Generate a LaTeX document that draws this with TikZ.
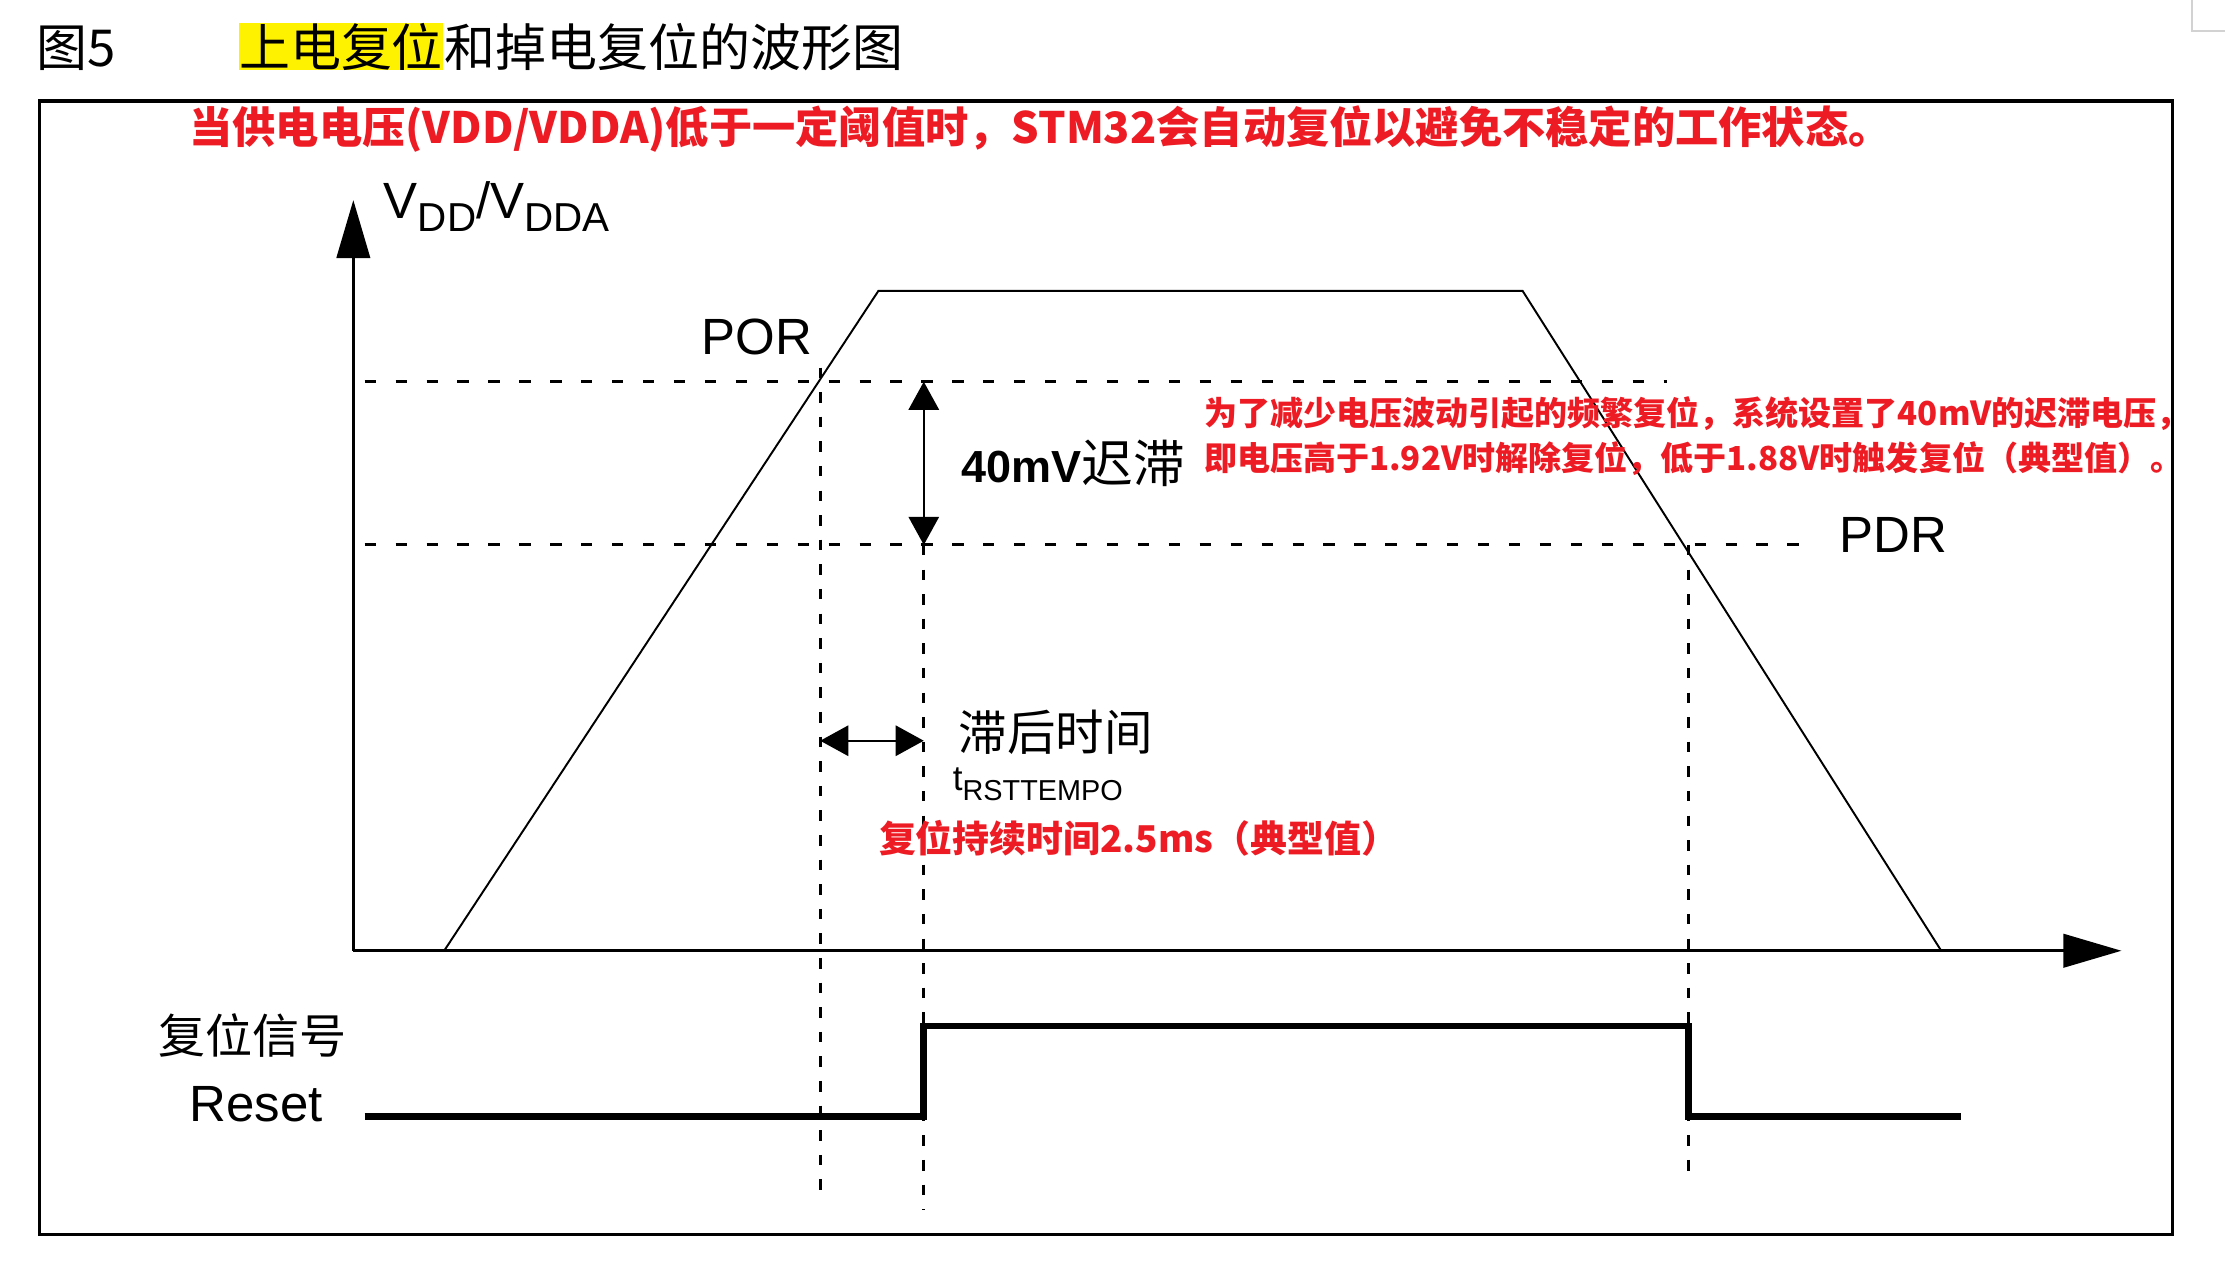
\documentclass[tikz,border=0pt]{standalone}
\usepackage{fontspec}
\setmainfont{Liberation Sans}
\newfontfamily\cjk{Noto Sans CJK SC}
\usetikzlibrary{arrows.meta}
\definecolor{warnred}{RGB}{237,28,36}
\newcommand\sz[1]{\fontsize{#1}{#1}\selectfont}

\begin{document}
\begin{tikzpicture}[x=0.01419cm, y=-0.01419cm,
    axisline/.style={line width=0.8pt, -{Triangle[length=16.5pt,width=9.5pt]}},
    waveline/.style={line width=0.55pt},
    levelline/.style={line width=0.85pt, dash pattern=on 3.2pt off 5.6pt},
    timeline/.style={line width=0.8pt, dash pattern=on 3pt off 4pt},
    dimarrow/.style={line width=0.7pt, {Triangle[length=8pt,width=8.6pt]}-{Triangle[length=8pt,width=8.6pt]}},
    resetline/.style={line width=1.9pt},
    txt/.style={inner sep=0pt},
    redtxt/.style={inner sep=0pt, text=warnred}]
    \useasboundingbox (0,0) rectangle (1568,895);
    % screenshot corner
    \draw[gray!35, fill=white, line width=0.6pt] (1545,-5) rectangle (1575,22);

    % title
    \node[txt, anchor=west, font=\cjk\sz{14.5pt}] (fignum) at (25,34) {图5};
    \node[txt, anchor=west, fill=yellow, font=\cjk\sz{14.5pt}] (hl) at (168,33) {上电复位};
    \node[txt, anchor=west, font=\cjk\sz{14.5pt}] (title) at (hl.east) {和掉电复位的波形图};

    % frame
    \draw[line width=1pt] (28,71) rectangle (1531,870);
    \node[redtxt, anchor=west, font=\cjk\bfseries\sz{12.3pt}] (warn) at (133,91)
        {当供电电压(VDD/VDDA)低于一定阈值时，STM32会自动复位以避免不稳定的工作状态。};

    % axes
    \coordinate (O) at (249,670);
    \coordinate (ytop) at (249,141);
    \coordinate (xend) at (1495,670);
    \draw[axisline] (O) -- (ytop);
    \draw[axisline] (O) -- (xend);
    \node[txt, anchor=base west, font=\sz{14.5pt}] (vlabel) at (270,154)
        {V\raisebox{-3.8pt}{\sz{11.5pt}DD}/V\raisebox{-3.8pt}{\sz{11.5pt}DDA}};

    % supply waveform
    \coordinate (rise0) at (313,670);
    \coordinate (rise1) at (619,205);
    \coordinate (fall0) at (1073,205);
    \coordinate (fall1) at (1368,670);
    \draw[waveline] (rise0) -- (rise1) -- (fall0) -- (fall1);

    % thresholds
    \coordinate (porL) at (257,269);
    \coordinate (porR) at (1175,269);
    \coordinate (pdrL) at (257,384);
    \coordinate (pdrR) at (1278,384);
    \draw[levelline] (porL) -- (porR);
    \draw[levelline] (pdrL) -- (pdrR);
    \node[txt, anchor=base west, font=\sz{14.5pt}] (por) at (494,250) {POR};
    \node[txt, anchor=base west, font=\sz{14.5pt}] (pdr) at (1296,389) {PDR};

    % time marks
    \coordinate (t1a) at (578,259);
    \coordinate (t1b) at (578,848);
    \coordinate (t2a) at (651,384);
    \coordinate (t2b) at (651,853);
    \coordinate (t3a) at (1190,384);
    \coordinate (t3b) at (1190,830);
    \draw[timeline] (t1a) -- (t1b);
    \draw[timeline] (t2a) -- (t2b);
    \draw[timeline] (t3a) -- (t3b);

    % hysteresis
    \coordinate (hysTop) at (651,269);
    \draw[dimarrow] (hysTop) -- (t2a);
    \node[txt, anchor=base west] (hyst) at (677,340)
        {{\bfseries\sz{12.8pt}40mV}{\cjk\sz{14.7pt}迟滞}};
    \node[redtxt, anchor=west, align=left, font=\cjk\bfseries\fontsize{9.4pt}{12.9pt}\selectfont] (note) at (848,307.5)
        {为了减少电压波动引起的频繁复位，系统设置了40mV的迟滞电压，\\
         即电压高于1.92V时解除复位，低于1.88V时触发复位（典型值）。};

    % reset delay
    \coordinate (lagL) at (578,522);
    \coordinate (lagR) at (651,522);
    \draw[dimarrow] (lagL) -- (lagR);
    \node[txt, anchor=west, font=\cjk\sz{13.8pt}] (lag) at (675,516) {滞后时间};
    \node[txt, anchor=base west, font=\sz{10pt}] (trst) at (671,557)
        {t\raisebox{-2.8pt}{\sz{8.2pt}RSTTEMPO}};
    \node[redtxt, anchor=west, font=\cjk\bfseries\sz{10.5pt}] (dur) at (619,591)
        {复位持续时间2.5ms（典型值）};

    % reset signal
    \coordinate (r0) at (257,787);
    \coordinate (r1) at (651,787);
    \coordinate (r2) at (651,723);
    \coordinate (r3) at (1190,723);
    \coordinate (r4) at (1190,787);
    \coordinate (r5) at (1382,787);
    \draw[resetline] (r0) -- (r1) -- (r2) -- (r3) -- (r4) -- (r5);
    \node[txt, font=\cjk\sz{13.4pt}] (rstcn) at (178,730) {复位信号};
    \node[txt, anchor=base west, font=\sz{14.5pt}] (rsten) at (133,790) {Reset};
\end{tikzpicture}
\end{document}
